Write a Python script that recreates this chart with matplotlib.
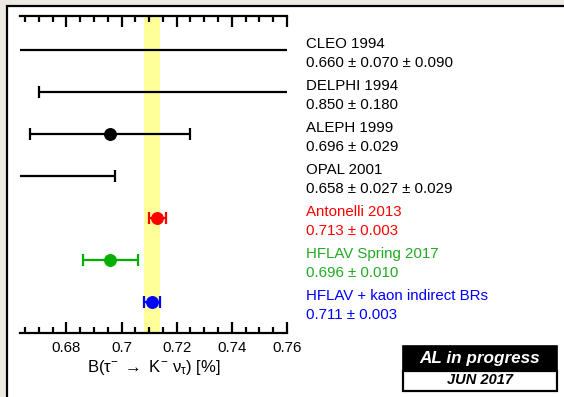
import matplotlib
matplotlib.use("Agg")
import matplotlib.pyplot as plt
from matplotlib.patches import Rectangle
from matplotlib.ticker import MultipleLocator

plt.rcParams['font.family'] = ['Liberation Sans', 'DejaVu Sans']
plt.rcParams['mathtext.fontset'] = 'custom'
plt.rcParams['mathtext.rm'] = 'Liberation Sans'
plt.rcParams['mathtext.it'] = 'Liberation Sans:italic'

names = ["CLEO 1994", "DELPHI 1994", "ALEPH 1999", "OPAL 2001",
         "Antonelli 2013", "HFLAV Spring 2017", "HFLAV + kaon indirect BRs"]
value_text = ["0.660 ± 0.070 ± 0.090", "0.850 ± 0.180", "0.696 ± 0.029",
              "0.658 ± 0.027 ± 0.029", "0.713 ± 0.003", "0.696 ± 0.010",
              "0.711 ± 0.003"]
values = [0.660, 0.850, 0.696, 0.658, 0.713, 0.696, 0.711]
errors = [0.114, 0.180, 0.029, 0.0396, 0.003, 0.010, 0.003]
colors = ["black", "black", "black", "black", "#ff0000", "#00b000", "#0000ff"]
text_colors = ["black", "black", "black", "black", "#ff0000", "#22aa22", "#0000ff"]
band_center = 0.711
band_half = 0.003
xticks = [0.68, 0.70, 0.72, 0.74, 0.76]
xticklabels = ["0.68", "0.7", "0.72", "0.74", "0.76"]

fig = plt.figure(figsize=(5.64, 3.97), dpi=100)
W, H = 564, 397
fig.patch.set_facecolor('#ece8e2')

# white panel with black frame
fig.patches.append(Rectangle((7 / W, -0.05), 1.2, 1 - 6 / H + 0.05,
                             transform=fig.transFigure, facecolor='white',
                             edgecolor='black', linewidth=1.6, zorder=-10))

ax = fig.add_axes([20 / W, 1 - 333 / H, 267 / W, 317 / H])
ax.set_facecolor('none')
ax.set_xlim(0.6632, 0.76)
n = len(names)
ypos = list(range(n, 0, -1))
ax.set_ylim(0.26, n + 0.81)

ax.axvspan(band_center - band_half, band_center + band_half,
           color='#ffff99', alpha=1.0, lw=0, zorder=0)

for y, v, e, c in zip(ypos, values, errors, colors):
    ax.errorbar(v, y, xerr=e, fmt='o', color=c, ecolor=c, markersize=8.3,
                elinewidth=1.6, capsize=4.2, capthick=1.6, zorder=3)

for y, nm, vt, tc in zip(ypos, names, value_text, text_colors):
    ax.annotate(nm, xy=(1, y), xycoords=('axes fraction', 'data'),
                xytext=(13.5, 4.5), textcoords='offset points',
                ha='left', va='center', fontsize=10.8, color=tc,
                annotation_clip=False)
    ax.annotate(vt, xy=(1, y), xycoords=('axes fraction', 'data'),
                xytext=(13.5, -9.3), textcoords='offset points',
                ha='left', va='center', fontsize=10.8, color=tc,
                annotation_clip=False)

for s in ['left', 'right']:
    ax.spines[s].set_visible(False)
for s in ['top', 'bottom']:
    ax.spines[s].set_linewidth(1.6)

ax.set_xticks(xticks)
ax.set_xticklabels(xticklabels)
ax.xaxis.set_minor_locator(MultipleLocator(0.005))
ax.tick_params(axis='x', which='both', direction='in', top=True, bottom=True,
               labeltop=False, labelsize=10.8, pad=6)
ax.tick_params(axis='x', which='major', length=8, width=1.6)
ax.tick_params(axis='x', which='minor', length=4.5, width=1.6)
ax.set_yticks([])
ax.set_xlabel(r'B(τ$^{-}$ $\rightarrow$ K$^{-}$ ν$_{\mathrm{τ}}$) [%]',
              fontsize=12, labelpad=2)

# "AL in progress" box
bx0, bx1 = 403 / W, 557 / W
by_top, by_mid, by_bot = 1 - 346 / H, 1 - 371 / H, 1 - 391 / H
fig.patches.append(Rectangle((bx0, by_mid), bx1 - bx0, by_top - by_mid,
                             transform=fig.transFigure, facecolor='black',
                             edgecolor='black', linewidth=1.2, zorder=2))
fig.patches.append(Rectangle((bx0, by_bot), bx1 - bx0, by_mid - by_bot,
                             transform=fig.transFigure, facecolor='white',
                             edgecolor='black', linewidth=1.6, zorder=2))
fig.text((bx0 + bx1) / 2, (by_top + by_mid) / 2, 'AL in progress', color='white',
         fontsize=12.3, fontweight='bold', style='italic', ha='center', va='center', zorder=3)
fig.text((bx0 + bx1) / 2, (by_mid + by_bot) / 2 + 0.002, 'JUN 2017', color='black',
         fontsize=10.5, fontweight='bold', style='italic', ha='center', va='center', zorder=3)

fig.savefig('out.png', dpi=100, facecolor=fig.get_facecolor())
